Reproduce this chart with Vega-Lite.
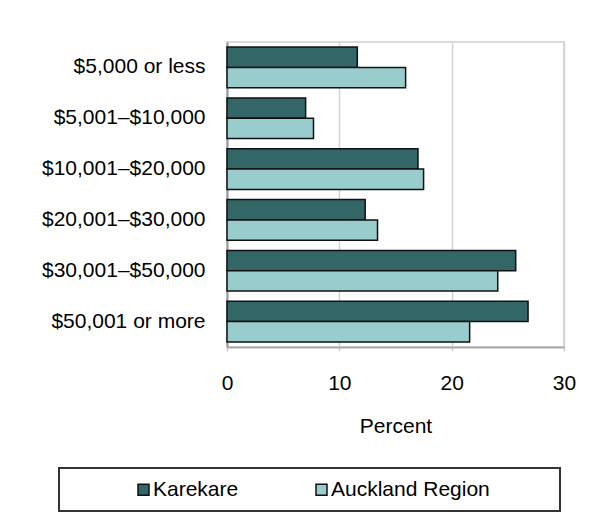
{
  "$schema": "https://vega.github.io/schema/vega-lite/v6.json",
  "width": 337,
  "height": 305,
  "autosize": {"type": "none"},
  "padding": {"left": 227, "top": 42, "right": 34, "bottom": 170},
  "background": "white",
  "config": {
    "font": "Liberation Sans",
    "view": {"stroke": "#dadada", "strokeWidth": 2},
    "legend": {"strokeWidth": 2}
  },
  "data": {
    "values": [
      {"bracket": "$5,000 or less", "series": "Karekare", "value": 11.6},
      {"bracket": "$5,000 or less", "series": "Auckland Region", "value": 15.9},
      {"bracket": "$5,001–$10,000", "series": "Karekare", "value": 7.0},
      {"bracket": "$5,001–$10,000", "series": "Auckland Region", "value": 7.7},
      {"bracket": "$10,001–$20,000", "series": "Karekare", "value": 17.0},
      {"bracket": "$10,001–$20,000", "series": "Auckland Region", "value": 17.5},
      {"bracket": "$20,001–$30,000", "series": "Karekare", "value": 12.3},
      {"bracket": "$20,001–$30,000", "series": "Auckland Region", "value": 13.4},
      {"bracket": "$30,001–$50,000", "series": "Karekare", "value": 25.7},
      {"bracket": "$30,001–$50,000", "series": "Auckland Region", "value": 24.1},
      {"bracket": "$50,001 or more", "series": "Karekare", "value": 26.8},
      {"bracket": "$50,001 or more", "series": "Auckland Region", "value": 21.6}
    ]
  },
  "mark": {"type": "bar", "stroke": "#111111", "strokeWidth": 1.5},
  "encoding": {
    "y": {
      "field": "bracket",
      "type": "nominal",
      "sort": ["$5,000 or less", "$5,001–$10,000", "$10,001–$20,000", "$20,001–$30,000", "$30,001–$50,000", "$50,001 or more"],
      "scale": {"paddingInner": 0.2, "paddingOuter": 0.1},
      "axis": {
        "title": null,
        "labelFontSize": 21,
        "labelColor": "#000000",
        "labelPadding": 22,
        "labelLimit": 400,
        "ticks": false,
        "domainColor": "#999999",
        "domainWidth": 2,
        "grid": false
      }
    },
    "yOffset": {
      "field": "series",
      "type": "nominal",
      "sort": ["Karekare", "Auckland Region"]
    },
    "x": {
      "field": "value",
      "type": "quantitative",
      "scale": {"domain": [0, 30], "nice": false},
      "axis": {
        "values": [0, 10, 20, 30],
        "labelFlush": false,
        "title": "Percent",
        "titleFontSize": 21,
        "titleFontWeight": "normal",
        "titleColor": "#000000",
        "titlePadding": 22,
        "labelFontSize": 21,
        "labelColor": "#000000",
        "labelPadding": 21,
        "tickSize": 4,
        "tickColor": "#cccccc",
        "tickWidth": 1.5,
        "domainColor": "#aaaaaa",
        "domainWidth": 2,
        "gridColor": "#d3d3d3",
        "gridWidth": 1.5
      }
    },
    "color": {
      "field": "series",
      "type": "nominal",
      "sort": ["Karekare", "Auckland Region"],
      "scale": {"domain": ["Karekare", "Auckland Region"], "range": ["#336666", "#99cccc"]},
      "legend": {
        "orient": "none",
        "legendX": -168,
        "legendY": 426,
        "direction": "horizontal",
        "title": null,
        "strokeColor": "#333333",
        "padding": 11,
        "symbolType": "square",
        "symbolSize": 121,
        "symbolStrokeColor": "#111111",
        "symbolStrokeWidth": 1.5,
        "symbolOpacity": 1,
        "symbolOffset": 63,
        "labelOffset": -1,
        "columnPadding": 9,
        "labelFontSize": 21,
        "labelLimit": 400,
        "labelColor": "#000000",
        "labelExpr": "datum.label == 'Auckland Region' ? datum.label + '\u00a0\u00a0\u00a0\u00a0\u00a0\u00a0\u00a0\u00a0\u00a0\u00a0\u200b' : datum.label"
      }
    }
  }
}
